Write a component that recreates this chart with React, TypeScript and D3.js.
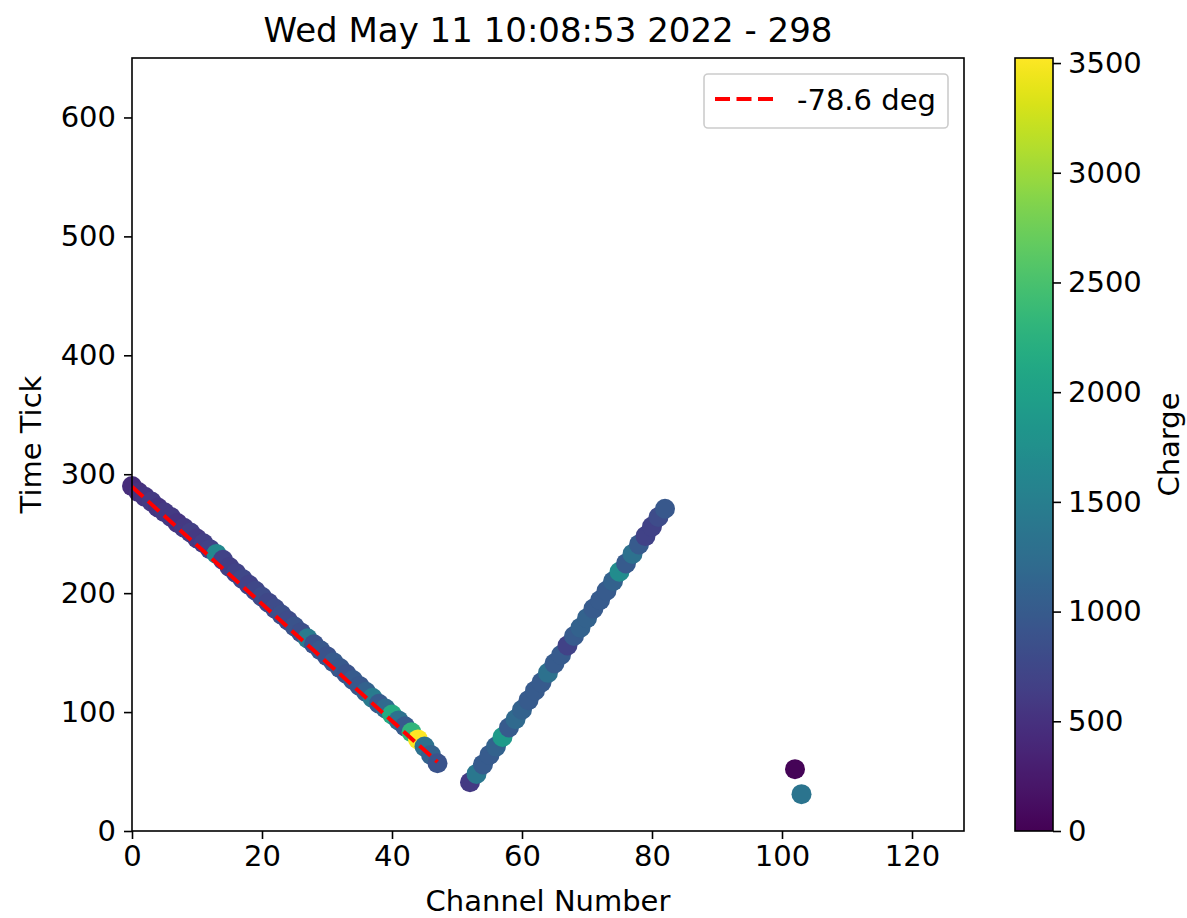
import { useEffect, useRef } from "react";
import * as d3 from "d3";

// first track (falling), channel -> time tick, charge
const track1Channels = [
  0, 1, 2, 3, 4, 5, 6, 7, 8, 9, 10, 11, 12, 13, 14, 15, 16, 17, 18, 19, 20, 21, 22, 23,
  24, 25, 26, 27, 28, 29, 30, 31, 32, 33, 34, 35, 36, 37, 38, 39, 40, 41, 42, 43, 44, 45, 46, 47,
];
const track1Times = [
  290, 285, 281, 277, 272, 268, 264, 259, 255, 251, 246, 242, 237, 233, 228, 222, 217, 212, 207, 202, 197, 192, 187, 182,
  177, 172, 167, 162, 157, 152, 147, 142, 137, 132, 127, 122, 117, 112, 107, 103, 98, 93, 88, 83, 77, 71, 64, 57,
];
const track1Charges = [
  450, 500, 550, 600, 550, 600, 600, 550, 600, 650, 600, 650, 700, 1650, 700, 650, 700, 750, 700, 750, 800, 750, 800, 850,
  800, 900, 850, 1450, 900, 950, 900, 1000, 950, 900, 1000, 950, 1100, 1450, 1000, 1200, 2150, 1300, 1000, 2300, 3520, 1300, 1100, 900,
];

// second track (rising)
const track2Channels = [
  52, 53, 54, 55, 56, 57, 58, 59, 60, 61, 62, 63, 64, 65, 66, 67, 68, 69, 70, 71, 72, 73, 74, 75, 76, 77, 78, 79, 80, 81, 82,
];
const track2Times = [
  41, 48, 56, 64, 71, 79, 87, 94, 102, 110, 118, 125, 133, 141, 148, 156, 164, 171, 179, 187, 194, 202, 210, 218, 225, 233, 241, 248, 256, 264, 271,
];
const track2Charges = [
  600, 1400, 1000, 1000, 1100, 1900, 1000, 1200, 1100, 1000, 1000, 1000, 1300, 1000, 1000, 700, 1000, 1100, 1100, 1000, 1000, 1000, 1100, 1700, 1000, 1300, 1000, 700, 700, 800, 950,
];

// isolated hits
const strayChannels = [102, 103];
const strayTimes = [52, 31];
const strayCharges = [30, 1350];

// fitted line
const fitChannels = [0, 47];
const fitTimes = [289.5, 58];
const fitLabel = "-78.6 deg";

const xTicks = [0, 20, 40, 60, 80, 100, 120];
const yTicks = [0, 100, 200, 300, 400, 500, 600];
const cTicks = [0, 500, 1000, 1500, 2000, 2500, 3000, 3500];

const title = "Wed May 11 10:08:53 2022 - 298";

export default function App() {
  const ref = useRef<SVGSVGElement>(null);
  const width = 1187;
  const height = 918;
  const left = 132, right = 964, top = 58, bottom = 831;
  const font = "DejaVu Sans, sans-serif";
  const fs = 29;

  useEffect(() => {
    const svg = d3.select(ref.current);
    svg.selectAll("*").remove();

    const x = d3.scaleLinear().domain([0, 128]).range([left, right]);
    const y = d3.scaleLinear().domain([0, 650]).range([bottom, top]);
    const c = d3.scaleLinear().domain([0, 3523]).range([bottom, top]);
    const color = (v: number) => d3.interpolateViridis(v / 3523);

    const pts: { ch: number; t: number; q: number }[] = [];
    track1Channels.forEach((ch, i) => pts.push({ ch, t: track1Times[i], q: track1Charges[i] }));
    track2Channels.forEach((ch, i) => pts.push({ ch, t: track2Times[i], q: track2Charges[i] }));
    strayChannels.forEach((ch, i) => pts.push({ ch, t: strayTimes[i], q: strayCharges[i] }));

    svg
      .append("g")
      .selectAll("circle")
      .data(pts)
      .join("circle")
      .attr("cx", (d) => x(d.ch))
      .attr("cy", (d) => y(d.t))
      .attr("r", 10)
      .attr("fill", (d) => color(d.q));

    const line = d3
      .line<number>()
      .x((d) => x(d))
      .y((_, i) => y(fitTimes[i]));
    svg
      .append("path")
      .attr("d", line(fitChannels))
      .attr("fill", "none")
      .attr("stroke", "#ff0000")
      .attr("stroke-width", 4)
      .attr("stroke-dasharray", "15 6.5");

    // axes
    const xAxis = svg
      .append("g")
      .attr("transform", `translate(0,${bottom})`)
      .call(d3.axisBottom(x).tickValues(xTicks).tickSize(8).tickPadding(6));
    const yAxis = svg
      .append("g")
      .attr("transform", `translate(${left},0)`)
      .call(d3.axisLeft(y).tickValues(yTicks).tickSize(8).tickPadding(8));
    [xAxis, yAxis].forEach((g) => {
      g.select(".domain").remove();
      g.selectAll("line").attr("stroke", "#000").attr("stroke-width", 1.6);
      g.selectAll("text").attr("font-family", font).attr("font-size", fs).attr("fill", "#000");
    });

    svg
      .append("rect")
      .attr("x", left)
      .attr("y", top)
      .attr("width", right - left)
      .attr("height", bottom - top)
      .attr("fill", "none")
      .attr("stroke", "#000")
      .attr("stroke-width", 1.6);

    // legend
    const lg = svg.append("g");
    lg.append("rect")
      .attr("x", 704)
      .attr("y", 74)
      .attr("width", 244)
      .attr("height", 54)
      .attr("rx", 4)
      .attr("fill", "#fff")
      .attr("fill-opacity", 0.8)
      .attr("stroke", "#cccccc")
      .attr("stroke-width", 1.6);
    lg.append("line")
      .attr("x1", 715)
      .attr("x2", 774)
      .attr("y1", 99)
      .attr("y2", 99)
      .attr("stroke", "#ff0000")
      .attr("stroke-width", 4)
      .attr("stroke-dasharray", "15 6.5");
    lg.append("text")
      .attr("x", 797)
      .attr("y", 110)
      .attr("font-family", font)
      .attr("font-size", fs)
      .text(fitLabel);

    // colorbar
    const cbx = 1015, cbw = 38;
    const defs = svg.append("defs");
    const grad = defs
      .append("linearGradient")
      .attr("id", "viridis")
      .attr("x1", 0)
      .attr("x2", 0)
      .attr("y1", 1)
      .attr("y2", 0);
    d3.range(0, 1.0001, 0.02).forEach((s) => {
      grad.append("stop").attr("offset", s).attr("stop-color", d3.interpolateViridis(s));
    });
    svg
      .append("rect")
      .attr("x", cbx)
      .attr("y", top)
      .attr("width", cbw)
      .attr("height", bottom - top)
      .attr("fill", "url(#viridis)")
      .attr("stroke", "#000")
      .attr("stroke-width", 1.6);
    const cAxis = svg
      .append("g")
      .attr("transform", `translate(${cbx + cbw},0)`)
      .call(d3.axisRight(c).tickValues(cTicks).tickFormat(d3.format("d")).tickSize(8).tickPadding(7));
    cAxis.select(".domain").remove();
    cAxis.selectAll("line").attr("stroke", "#000").attr("stroke-width", 1.6);
    cAxis.selectAll("text").attr("font-family", font).attr("font-size", fs).attr("fill", "#000");

    // labels
    svg
      .append("text")
      .attr("x", (left + right) / 2)
      .attr("y", 42)
      .attr("text-anchor", "middle")
      .attr("font-family", font)
      .attr("font-size", 34)
      .text(title);
    svg
      .append("text")
      .attr("x", (left + right) / 2)
      .attr("y", 911)
      .attr("text-anchor", "middle")
      .attr("font-family", font)
      .attr("font-size", fs)
      .text("Channel Number");
    svg
      .append("text")
      .attr("transform", `translate(41,${(top + bottom) / 2}) rotate(-90)`)
      .attr("text-anchor", "middle")
      .attr("font-family", font)
      .attr("font-size", fs)
      .text("Time Tick");
    svg
      .append("text")
      .attr("transform", `translate(1179,${(top + bottom) / 2}) rotate(-90)`)
      .attr("text-anchor", "middle")
      .attr("font-family", font)
      .attr("font-size", fs)
      .text("Charge");
  }, []);

  return (
    <svg
      ref={ref}
      width={width}
      height={height}
      style={{ position: "absolute", left: 0, top: 0, background: "#fff" }}
    />
  );
}
